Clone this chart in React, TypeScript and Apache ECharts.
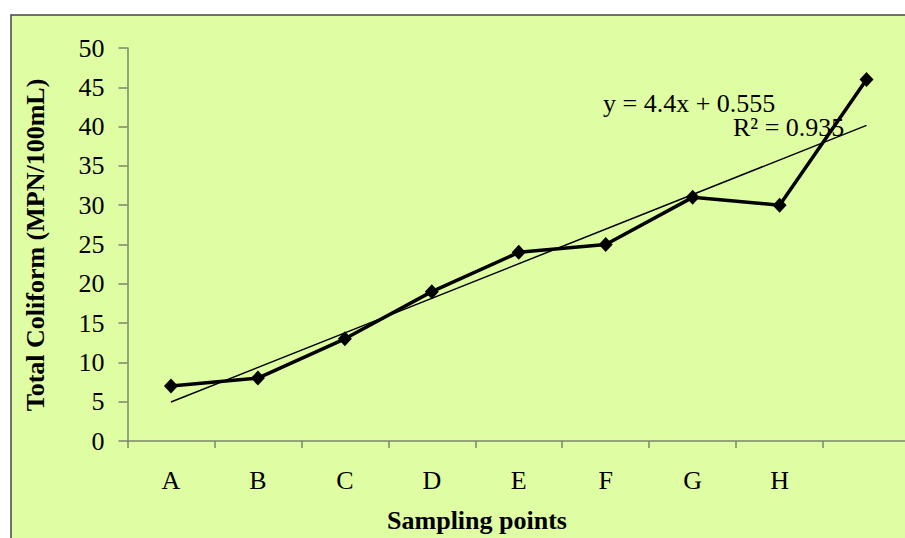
import React, { useEffect, useRef } from "react";
import * as echarts from "echarts";

const categories = ["A", "B", "C", "D", "E", "F", "G", "H", ""];
const coliform = [7, 8, 13, 19, 24, 25, 31, 30, 46];
const trendEnds = [4.955, 40.155]; // y = 4.4x + 0.555 at first and last point
const yTicks = { min: 0, max: 50, interval: 5 };
const equationText = "y = 4.4x + 0.555";
const r2Text = "R² = 0.935";
const xTitle = "Sampling points";
const yTitle = "Total Coliform (MPN/100mL)";

const BG = "#dffda2";
const AXIS = "#7d8668";
const FONT = "'Liberation Serif', 'Times New Roman', serif";

export default function App() {
  const ref = useRef<HTMLDivElement>(null);
  useEffect(() => {
    if (!ref.current) return;
    const chart = echarts.init(ref.current, undefined, { renderer: "svg" });
    chart.setOption({
      animation: false,
      backgroundColor: "#ffffff",
      grid: { left: 127.5, top: 48, right: 5, bottom: 97 },
      graphic: [
        {
          type: "rect",
          z: -10,
          silent: true,
          shape: { x: 11, y: 15, width: 920, height: 540 },
          style: { fill: BG, stroke: "#444", lineWidth: 1.5 },
        },
        {
          type: "text",
          x: 35,
          y: 245,
          rotation: Math.PI / 2,
          style: {
            text: yTitle,
            font: `bold 26px ${FONT}`,
            fill: "#000",
            textAlign: "center",
            textVerticalAlign: "middle",
          },
        },
        {
          type: "text",
          x: 477,
          y: 520,
          style: {
            text: xTitle,
            font: `bold 26px ${FONT}`,
            fill: "#000",
            textAlign: "center",
            textVerticalAlign: "middle",
          },
        },
        {
          type: "text",
          x: 603,
          y: 103,
          z: 10,
          style: {
            text: equationText,
            font: `26px ${FONT}`,
            fill: "#000",
            textAlign: "left",
            textVerticalAlign: "middle",
          },
        },
        {
          type: "text",
          x: 733,
          y: 127,
          z: 1,
          style: {
            text: r2Text,
            font: `26px ${FONT}`,
            fill: "#000",
            textAlign: "left",
            textVerticalAlign: "middle",
          },
        },
      ],
      xAxis: {
        type: "category",
        data: categories,
        boundaryGap: true,
        axisLine: { show: true, lineStyle: { color: AXIS, width: 1.5 } },
        axisTick: { show: true, length: 7, lineStyle: { color: AXIS, width: 1.5 } },
        axisLabel: { color: "#000", fontFamily: FONT, fontSize: 26, margin: 26 },
        splitLine: { show: false },
      },
      yAxis: {
        type: "value",
        min: yTicks.min,
        max: yTicks.max,
        interval: yTicks.interval,
        axisLine: { show: true, lineStyle: { color: AXIS, width: 1.5 } },
        axisTick: { show: true, length: 9, lineStyle: { color: AXIS, width: 1.5 } },
        axisLabel: { color: "#000", fontFamily: FONT, fontSize: 26, margin: 23 },
        splitLine: { show: false },
      },
      series: [
        {
          type: "line",
          data: coliform,
          symbol: "diamond",
          symbolSize: [14, 15],
          itemStyle: { color: "#000" },
          lineStyle: { color: "#000", width: 3.5 },
          z: 3,
          markLine: {
            silent: true,
            symbol: ["none", "none"],
            label: { show: false },
            lineStyle: { color: "#000", width: 1.5, type: "solid" },
            data: [
              [
                { coord: [0, trendEnds[0]] },
                { coord: [categories.length - 1, trendEnds[1]] },
              ],
            ],
          },
        },
      ],
    });
    return () => chart.dispose();
  }, []);
  return (
    <div
      style={{
        position: "absolute",
        left: 0,
        top: 0,
        width: 905,
        height: 538,
        overflow: "hidden",
      }}
    >
      <div ref={ref} style={{ width: 915, height: 538 }} />
    </div>
  );
}
